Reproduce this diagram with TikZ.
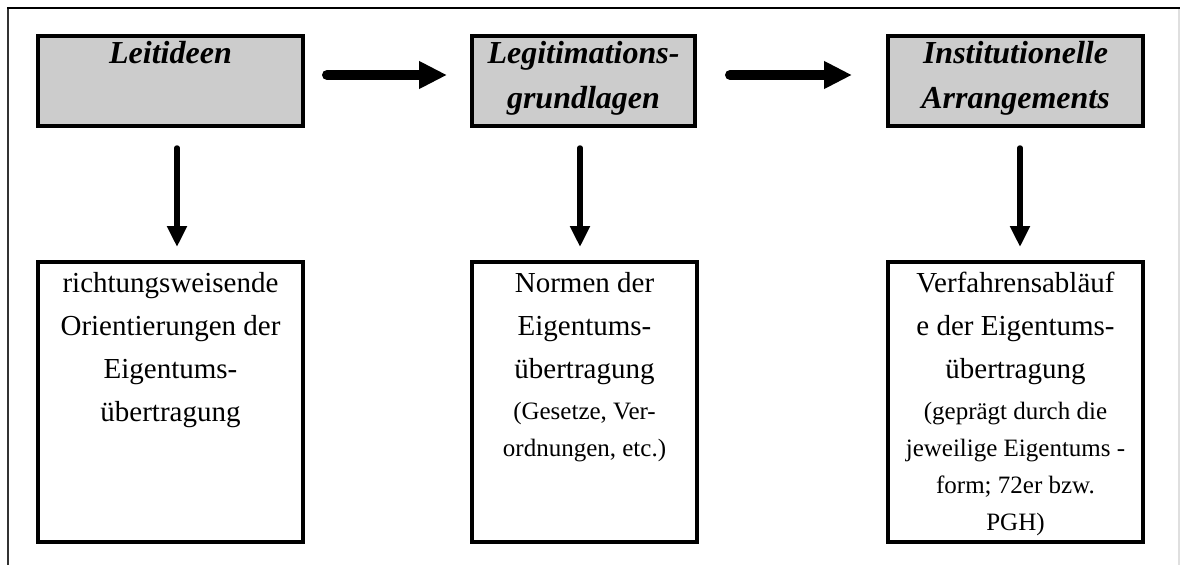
\documentclass[tikz,border=0pt]{standalone}
\usepackage{fontspec}
\setmainfont{Liberation Serif}
\usetikzlibrary{arrows.meta,calc}
\newcommand\headtxt[2]{\parbox[c][90pt][t]{#1}{\centering\fontsize{32}{45}\selectfont\bfseries\itshape\rule{0pt}{27pt}#2\par}}
\newcommand\maintxt[3]{\parbox[c][280pt][t]{#1}{\centering\fontsize{29}{43}\selectfont\rule{0pt}{30pt}#2\par
 {\fontsize{25}{37}\selectfont\vspace{4pt}#3\par}}}
\begin{document}
\begin{tikzpicture}[x=1pt,y=-1pt,
  headbox/.style={draw, line width=3.5pt, fill=gray!40, inner sep=0pt, outer sep=0pt},
  textbox/.style={draw, line width=3.5pt, fill=white, inner sep=0pt, outer sep=0pt},
  harrow/.style={line width=10pt, line cap=round, -{Triangle[length=28pt,width=26pt]}},
  varrow/.style={line width=5.5pt, line cap=round, -{Triangle[length=21pt,width=19pt]}},
  frameline/.style={line width=2pt}
]
\useasboundingbox (0,0) rectangle (1180,565);
% outer frame
\draw[frameline, gray!25] (1179,8) -- (1179,565);
\draw[frameline, black!80] (8,8) -- (8,565);
\draw[frameline, black] (7,8) -- (1180,8);

% header boxes
\node[headbox] (h1) at (170.5,81) {\headtxt{265pt}{Leitideen}};
\node[headbox] (h2) at (583.5,81) {\headtxt{223pt}{Legitimations-\\grundlagen}};
\node[headbox] (h3) at (1015.5,81) {\headtxt{255pt}{Institutionelle\\Arrangements}};

% content boxes
\node[textbox] (b1) at (170.5,402) {\maintxt{265pt}{richtungsweisende\\Orientierungen der\\Eigentums-\\übertragung}{}};
\node[textbox] (b2) at (584.5,402) {\maintxt{225pt}{Normen der\\Eigentums-\\übertragung}{(Gesetze, Ver-\\ordnungen, etc.)}};
\node[textbox] (b3) at (1015.5,402) {\maintxt{255pt}{Verfahrensabläuf\\e der Eigentums-\\übertragung}{(geprägt durch die\\jeweilige Eigentums -\\form; 72er bzw.\\PGH)}};

% horizontal arrows
\draw[harrow] ($(h1.east)+(24,-6)$) -- ($(h2.west)+(-25,-6)$);
\draw[harrow] ($(h2.east)+(35,-6)$) -- ($(h3.west)+(-36,-6)$);

% vertical arrows
\draw[varrow] ($(h1.south)+(6.5,22)$) -- ($(b1.north)+(6.5,-15)$);
\draw[varrow] ($(h2.south)+(-3.5,22)$) -- ($(b2.north)+(-4.5,-15)$);
\draw[varrow] ($(h3.south)+(4.5,22)$) -- ($(b3.north)+(4.5,-15)$);
\end{tikzpicture}
\end{document}
